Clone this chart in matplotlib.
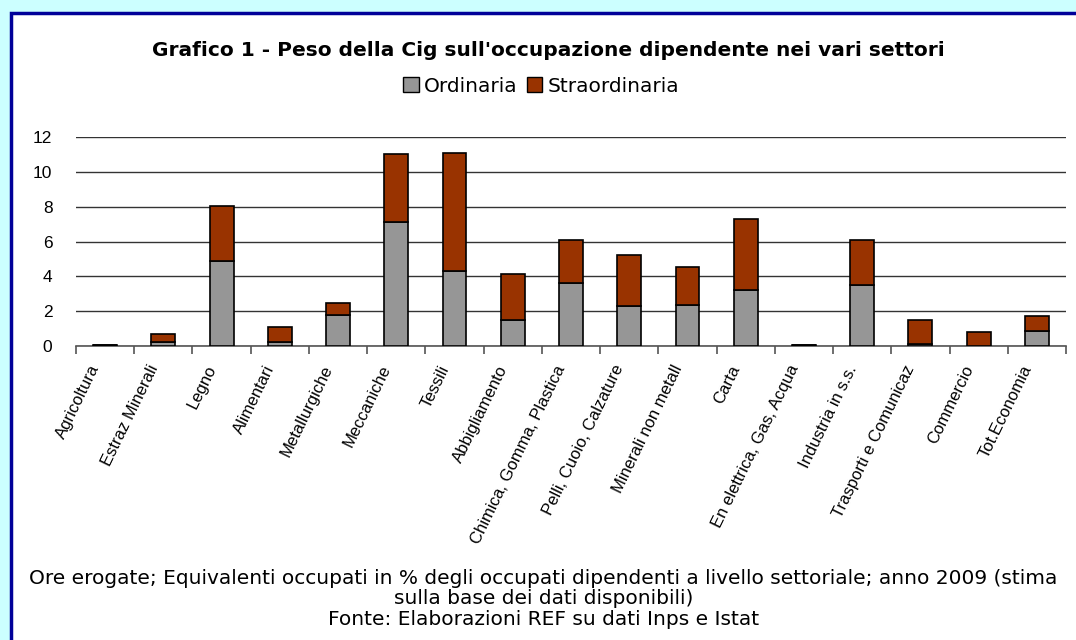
import matplotlib.pyplot as plt
import numpy as np
import matplotlib.transforms as mtransforms
from matplotlib.patches import Rectangle, Patch

plt.rcParams['font.family'] = ['Liberation Sans', 'DejaVu Sans']

settori = ['Agricoltura', 'Estraz Minerali', 'Legno', 'Alimentari', 'Metallurgiche',
           'Meccaniche', 'Tessili', 'Abbigliamento', 'Chimica, Gomma, Plastica',
           'Pelli, Cuoio, Calzature', 'Minerali non metall', 'Carta',
           'En elettrica, Gas, Acqua', 'Industria in s.s.', 'Trasporti e Comunicaz',
           'Commercio', 'Tot.Economia']
ordinaria = [0.03, 0.23, 4.90, 0.23, 1.77, 7.12, 4.29, 1.47, 3.59, 2.27, 2.33, 3.19,
             0.03, 3.51, 0.13, 0.02, 0.86]
totale = [0.06, 0.71, 8.03, 1.07, 2.48, 11.03, 11.10, 4.12, 6.11, 5.25, 4.54, 7.27,
          0.06, 6.11, 1.47, 0.78, 1.72]
straordinaria = [t - o for t, o in zip(totale, ordinaria)]

W, H = 1076, 640
fig = plt.figure(figsize=(W / 100, H / 100), dpi=100)
fig.patch.set_facecolor('#CCFFFF')
fig.patches.append(Rectangle((11 / W, -0.1), 1.2, 1 - 13 / H + 0.1, transform=fig.transFigure,
                             facecolor='white', edgecolor='#000099', linewidth=2.5, zorder=-10))

ax = fig.add_axes([76 / W, 1 - 346 / H, (1066 - 76) / W, (346 - 137) / H])
ax.set_facecolor('none')
x = np.arange(len(settori))
ax.bar(x, ordinaria, width=0.41, color='#969696', edgecolor='black', linewidth=1.2, zorder=3)
ax.bar(x, straordinaria, bottom=ordinaria, width=0.41, color='#993300', edgecolor='black',
       linewidth=1.2, zorder=3)

ax.set_xlim(-0.5, len(settori) - 0.5)
ax.set_ylim(0, 12)
ax.set_yticks(range(0, 13, 2))
ax.yaxis.grid(True, color='#333333', linewidth=1)
ax.set_axisbelow(True)
for s in ['top', 'right', 'left']:
    ax.spines[s].set_visible(False)
ax.spines['bottom'].set_color('#555555')
ax.spines['bottom'].set_linewidth(1.2)
ax.tick_params(axis='y', length=0, labelsize=12.5, pad=17)
ax.set_xticks(x)
ax.set_xticklabels(settori, rotation=64, ha='right', va='top', rotation_mode='anchor', fontsize=12)
ax.tick_params(axis='x', which='major', length=0, pad=12)
ax.set_xticks(np.arange(-0.5, len(settori)), minor=True)
ax.tick_params(axis='x', which='minor', length=6, color='#555555', width=1.2)
shift = mtransforms.ScaledTranslation(-16 / 100, 0, fig.dpi_scale_trans)
for lbl in ax.get_xticklabels():
    lbl.set_transform(lbl.get_transform() + shift)

fig.text(0.51, 1 - 50 / H, "Grafico 1 - Peso della Cig sull'occupazione dipendente nei vari settori",
         ha='center', va='center', fontsize=14.5, fontweight='bold', family='DejaVu Sans')
handles = [Patch(facecolor='#969696', edgecolor='black', label='Ordinaria'),
           Patch(facecolor='#993300', edgecolor='black', label='Straordinaria')]
fig.legend(handles=handles, loc='center', bbox_to_anchor=(0.503, 1 - 86 / H), ncol=2, frameon=False,
           prop={'family': 'DejaVu Sans', 'size': 14.5},
           handlelength=0.75, handleheight=0.75, handletextpad=0.25, columnspacing=0.5)

fig.text(0.505, 1 - 599 / H,
         "Ore erogate; Equivalenti occupati in % degli occupati dipendenti a livello settoriale; anno 2009 (stima\n"
         "sulla base dei dati disponibili)\nFonte: Elaborazioni REF su dati Inps e Istat",
         ha='center', va='center', fontsize=14.5, linespacing=1.08, family='DejaVu Sans')

fig.savefig('out.png', dpi=100, facecolor=fig.get_facecolor())
